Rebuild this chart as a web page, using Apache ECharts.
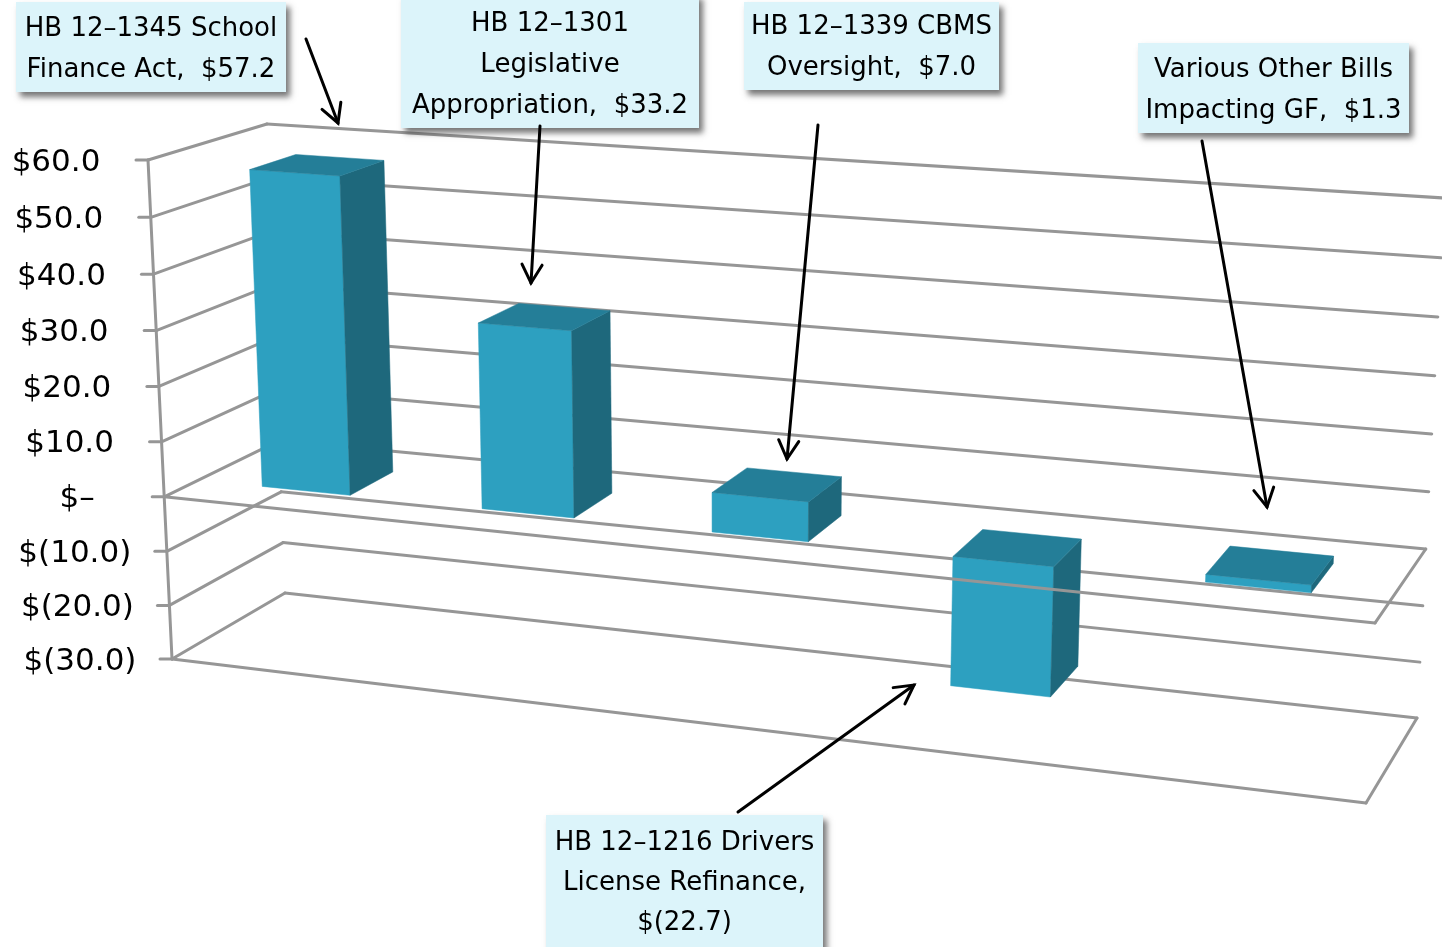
<!DOCTYPE html>
<html>
<head>
<meta charset="utf-8">
<style>html,body{margin:0;padding:0;background:#fff}#chart{width:1442px;height:947px}</style>
<script src="https://cdn.jsdelivr.net/npm/echarts@6/dist/echarts.min.js"></script>
</head>
<body>
<div id="chart"></div>
<script>
// General Fund impact of 2012 legislation, in millions of dollars.
const billNames = ['HB 12-1345', 'HB 12-1301', 'HB 12-1339', 'HB 12-1216', 'Other bills'];
const billValues = [57.2, 33.2, 7.0, -22.7, 1.3];
const tickValues = [60, 50, 40, 30, 20, 10, 0, -10, -20, -30];
const tickLabels = ['$60.0', '$50.0', '$40.0', '$30.0', '$20.0', '$10.0', ' $–', '$(10.0)', '$(20.0)', '$(30.0)'];
const calloutLines = [
  ['HB 12–1345 School', 'Finance Act,  $57.2'],
  ['HB 12–1301', 'Legislative', 'Appropriation,  $33.2'],
  ['HB 12–1339 CBMS', 'Oversight,  $7.0'],
  ['Various Other Bills', 'Impacting GF,  $1.3'],
  ['HB 12–1216 Drivers', 'License Refinance,', '$(22.7)']
];

// Chart-box layout.
const GRID = { left: 100, top: 100, width: 1000, height: 700 };
const BOX = {
  frontLeftTop: [148, 160], frontLeftBottom: [172, 659],
  frontRightTop: [1394, 249], frontRightBottom: [1366, 803],
  backLeftTop: [267, 124], backLeftBottom: [285, 593],
  backRightTop: [1444, 198], backRightBottom: [1417, 718]
};
const FORESHORTEN_X = 1.123;
const FORESHORTEN_Y = 0.963;
const BAR_WIDTH = 0.405;
const BAR_DEPTH = [0.3, 0.7];
const FACE = { front: '#2da0c0', top: '#247e98', side: '#1e687c' };
const LINE = { stroke: '#969696', lineWidth: 3, lineCap: 'round', lineJoin: 'round' };
const FONT = '"DejaVu Sans", sans-serif';

// Callout layout: box rectangle, centre of first line, line spacing.
const CALLOUT_BOXES = [
  { x: 16, y: 2, w: 270, h: 90, first: 29, step: 41 },
  { x: 401, y: -6, w: 298, h: 134, first: 24, step: 41 },
  { x: 744, y: 2, w: 255, h: 88, first: 27, step: 41 },
  { x: 1138, y: 43, w: 271, h: 90, first: 70, step: 41 },
  { x: 546, y: 815, w: 277, h: 140, first: 843, step: 40 }
];
const ARROWS = [
  [306, 39, 338, 123], [540, 126, 531, 283], [818, 125, 787, 459],
  [1202, 141, 1267, 507], [738, 812, 914, 685]
];

const mix = (a, b, k) => [a[0] + (b[0] - a[0]) * k, a[1] + (b[1] - a[1]) * k];
const foreshorten = (k, c) => k / (k + c * (1 - k));

// Maps a pixel of the hidden grid plus a depth (0 front, 1 back) into the tilted box.
function project(px, py, depth) {
  const u = foreshorten((px - GRID.left) / GRID.width, FORESHORTEN_X);
  const h = foreshorten((py - GRID.top) / GRID.height, FORESHORTEN_Y);
  const front = mix(mix(BOX.frontLeftTop, BOX.frontLeftBottom, h), mix(BOX.frontRightTop, BOX.frontRightBottom, h), u);
  const back = mix(mix(BOX.backLeftTop, BOX.backLeftBottom, h), mix(BOX.backRightTop, BOX.backRightBottom, h), u);
  return mix(front, back, depth);
}

const segment = (a, b) => ({
  type: 'line', silent: true,
  shape: { x1: a[0], y1: a[1], x2: b[0], y2: b[1] },
  style: Object.assign({}, LINE, { fill: null })
});
const edgeX = { left: GRID.left, right: GRID.left + GRID.width };

// Side wall, back wall, ticks and labels for each axis step.
function renderWalls(params, api) {
  const py = api.coord([0, api.value(1)])[1];
  const frontLeft = project(edgeX.left, py, 0);
  const backLeft = project(edgeX.left, py, 1);
  const backRight = project(edgeX.right, py, 1);
  const children = [
    segment(frontLeft, backLeft),
    segment(backLeft, backRight),
    segment([frontLeft[0] - 12, frontLeft[1]], frontLeft),
    {
      type: 'text', silent: true,
      style: {
        text: tickLabels[params.dataIndex], x: frontLeft[0] - 92, y: frontLeft[1] + 2.5,
        fontSize: 31, fontFamily: FONT, fill: '#000', align: 'center', verticalAlign: 'middle'
      }
    }
  ];
  if (params.dataIndex === 0) {
    const bottom = api.coord([0, tickValues[tickValues.length - 1]])[1];
    children.push(segment(frontLeft, project(edgeX.left, bottom, 0)));
  }
  return { type: 'group', children };
}

// One solid column: front, side and top faces.
function renderBar(params, api) {
  const base = api.coord([api.value(0), 0]);
  const end = api.coord([api.value(0), api.value(1)]);
  const half = api.size([1, 0])[0] * BAR_WIDTH / 2;
  const x0 = base[0] - half, x1 = base[0] + half;
  const yTop = Math.min(base[1], end[1]), yBottom = Math.max(base[1], end[1]);
  const [d0, d1] = BAR_DEPTH;
  const face = (points, fill) => ({
    type: 'polygon', shape: { points }, style: { fill, stroke: fill, lineWidth: 0.5 }
  });
  return {
    type: 'group',
    children: [
      face([project(x0, yTop, d0), project(x1, yTop, d0), project(x1, yBottom, d0), project(x0, yBottom, d0)], FACE.front),
      face([project(x1, yTop, d0), project(x1, yTop, d1), project(x1, yBottom, d1), project(x1, yBottom, d0)], FACE.side),
      face([project(x0, yTop, d0), project(x0, yTop, d1), project(x1, yTop, d1), project(x1, yTop, d0)], FACE.top)
    ]
  };
}

// Front and right edges of the zero plane and of the floor; these pass over the columns.
function renderPlane(params, api) {
  const py = api.coord([0, api.value(1)])[1];
  const frontRight = project(edgeX.right, py, 0);
  return {
    type: 'group',
    children: [
      segment(project(edgeX.left, py, 0), frontRight),
      segment(frontRight, project(edgeX.right, py, 1))
    ]
  };
}

function calloutGraphics() {
  const out = [];
  CALLOUT_BOXES.forEach((b, i) => {
    out.push({
      type: 'rect', z: 100, silent: true,
      shape: { x: b.x, y: b.y, width: b.w, height: b.h },
      style: { fill: '#dcf4fa', shadowBlur: 6, shadowOffsetX: 4, shadowOffsetY: 5, shadowColor: 'rgba(60,60,60,0.7)' }
    });
    calloutLines[i].forEach((text, j) => out.push({
      type: 'text', z: 101, silent: true,
      style: {
        text, x: b.x + b.w / 2, y: b.first + j * b.step,
        fontSize: 26, fontFamily: FONT, fill: '#000', align: 'center', verticalAlign: 'middle'
      }
    }));
  });
  ARROWS.forEach(([x1, y1, x2, y2]) => {
    const a = Math.atan2(y2 - y1, x2 - x1);
    const len = 21, spread = 0.5;
    const arm = s => [x2 - len * Math.cos(a + s), y2 - len * Math.sin(a + s)];
    const style = { stroke: '#000', lineWidth: 3, fill: null, lineCap: 'round', lineJoin: 'miter' };
    out.push({ type: 'line', z: 102, silent: true, shape: { x1, y1, x2, y2 }, style });
    out.push({ type: 'polyline', z: 102, silent: true, shape: { points: [arm(spread), [x2, y2], arm(-spread)] }, style });
  });
  return out;
}

const tickData = tickValues.map(v => [0, v]);
const chart = echarts.init(document.getElementById('chart'), null, { renderer: 'canvas' });
chart.setOption({
  animation: false,
  backgroundColor: '#ffffff',
  tooltip: { show: false },
  grid: GRID,
  xAxis: { type: 'category', data: billNames, show: false },
  yAxis: { type: 'value', min: -30, max: 60, interval: 10, show: false },
  series: [
    { type: 'custom', name: 'walls', z: 1, clip: false, silent: true, encode: { x: 0, y: 1 }, data: tickData, renderItem: renderWalls },
    { type: 'custom', name: 'General Fund impact', z: 2, clip: false, silent: true, encode: { x: 0, y: 1 },
      data: billValues.map((v, i) => [i, v]), renderItem: renderBar },
    { type: 'custom', name: 'planes', z: 3, clip: false, silent: true, encode: { x: 0, y: 1 },
      data: [[0, 0], [0, tickValues[tickValues.length - 1]]], renderItem: renderPlane }
  ],
  graphic: { elements: calloutGraphics() }
});
</script>
</body>
</html>
